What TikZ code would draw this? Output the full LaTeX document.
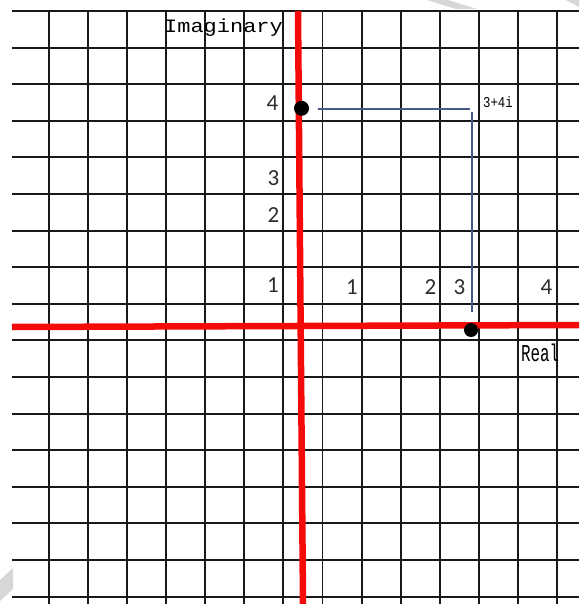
\documentclass[tikz,border=0pt]{standalone}
\usepackage{fontspec}
\setmainfont{Carlito}
\newfontfamily\monofam{Liberation Mono}
\usepackage{graphicx}
\definecolor{gridc}{RGB}{25,25,25}
\definecolor{axisred}{RGB}{245,10,10}
\definecolor{projblue}{RGB}{70,88,135}
\definecolor{digitc}{RGB}{45,45,45}
\definecolor{wm}{RGB}{215,215,215}
\tikzset{
  gridline/.style={draw=gridc, line width=1.9pt},
  axisline/.style={draw=axisred, line width=6.5pt},
  projline/.style={draw=projblue, line width=2.7pt},
  dotnode/.style={circle, fill=black, inner sep=0pt, minimum size=#1},
  digit/.style={anchor=base, inner sep=0pt, text=digitc, font=\fontsize{23}{23}\selectfont},
  monolabel/.style={anchor=base west, inner sep=0pt, text=black}
}
\begin{document}
\begin{tikzpicture}[x=1pt,y=-1pt]
\useasboundingbox (0,0) rectangle (579,604);
\fill[white] (0,0) rectangle (579,604);
% watermark fragments
\fill[wm] (0,580) -- (13,568) -- (13,589) -- (0,601) -- cycle;
\fill[wm] (427,0) -- (448,0) -- (477,9) -- (456,9) -- cycle;
\fill[wm] (566,0) -- (579,0) -- (579,7) -- cycle;
% grid
\foreach \i in {0,...,13} \draw[gridline] ({49+39.07*\i},11) -- ({49+39.07*\i},604);
\foreach \j in {0,...,16} \draw[gridline] (12,{11+36.6*\j}) -- (579,{11+36.6*\j});
% axes
\coordinate (ytop) at (298,11);
\coordinate (ybot) at (303,604);
\coordinate (xleft) at (12,327);
\coordinate (xright) at (579,325);
\draw[axisline] (xleft) -- (xright);
\draw[axisline] (ytop) -- (ybot);
% projection lines
\coordinate (hs) at (318,109);
\coordinate (he) at (470,109);
\coordinate (vs) at (472,112);
\coordinate (ve) at (472,312);
\draw[projline] (hs) -- (he);
\draw[projline] (vs) -- (ve);
% dots
\node[dotnode=15pt] (dimag) at (301.5,108.3) {};
\node[dotnode=14pt] (dreal) at (471,330) {};
% labels
\node[monolabel] (imag) at (164,33) {\scalebox{1.22}[1.05]{\fontsize{18}{18}\monofam Imaginary}};
\node[monolabel] (real) at (521,361) {\scalebox{0.72}[1.1]{\fontsize{22}{22}\monofam Real}};
\node[monolabel] (z) at (483,108) {\scalebox{0.82}[1]{\fontsize{15}{15}\monofam 3+4i}};
% axis digits
\node[digit] (y4) at (272.5,111) {4};
\node[digit] (y3) at (273.5,185.5) {3};
\node[digit] (y2) at (273.5,222.5) {2};
\node[digit] (y1) at (273,292.5) {1};
\node[digit] (x1) at (352,294.5) {1};
\node[digit] (x2) at (430.5,294.5) {2};
\node[digit] (x3) at (459.5,294.5) {3};
\node[digit] (x4) at (546.5,294.5) {4};
\end{tikzpicture}
\end{document}
